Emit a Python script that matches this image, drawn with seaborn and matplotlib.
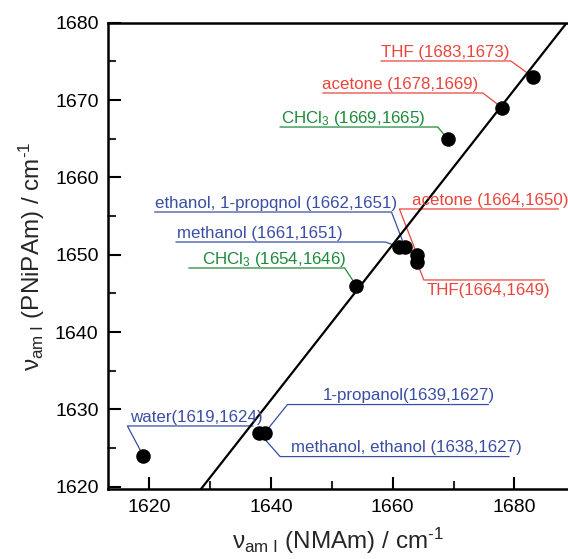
import matplotlib
matplotlib.use('Agg')
import matplotlib.pyplot as plt
from matplotlib.ticker import MultipleLocator
import seaborn as sns
import pandas as pd

sns.set_theme(style='ticks')
plt.rcParams['font.family'] = ['Liberation Sans', 'DejaVu Sans']
plt.rcParams['mathtext.fontset'] = 'custom'
plt.rcParams['mathtext.rm'] = 'Liberation Sans'
plt.rcParams['mathtext.it'] = 'Liberation Sans:italic'
plt.rcParams['mathtext.bf'] = 'Liberation Sans:bold'
plt.rcParams['axes.unicode_minus'] = False

# ---- data ----
solvents = ["water", "methanol, ethanol", "1-propanol", "CHCl3 (a)", "methanol",
            "ethanol, 1-propanol", "acetone (a)", "THF (a)", "CHCl3 (b)", "acetone (b)", "THF (b)"]
nu_nmam = [1619, 1638, 1639, 1654, 1661, 1662, 1664, 1664, 1669, 1678, 1683]
nu_pnipam = [1624, 1627, 1627, 1646, 1651, 1651, 1650, 1649, 1665, 1669, 1673]
ann_texts = ["water(1619,1624)", "methanol, ethanol (1638,1627)", "1-propanol(1639,1627)",
             "CHCl$_3$ (1654,1646)", "methanol (1661,1651)", "ethanol, 1-propqnol (1662,1651)",
             "acetone (1664,1650)", "THF(1664,1649)", "CHCl$_3$ (1669,1665)",
             "acetone (1678,1669)", "THF (1683,1673)"]
groups = ["alcohol", "alcohol", "alcohol", "chloro", "alcohol", "alcohol",
          "aprotic", "aprotic", "chloro", "aprotic", "aprotic"]
fit_x = [1627.0, 1690.0]
fit_y = [1618.2, 1681.4]

x_ticks = [1620, 1640, 1660, 1680]
y_ticks = [1620, 1630, 1640, 1650, 1660, 1670, 1680]

# ---- style / layout ----
group_colors = {"alcohol": "#3a4ea3", "chloro": "#1f8a3c", "aprotic": "#e8463c"}
# (underline x0, underline x1, underline y, text x, text side, leader end)
layout = [
    (1616.4, 1637.1, 1627.85, 1616.9, "above", "left"),
    (1641.5, 1679.2, 1623.89, 1643.3, "above", "left"),
    (1642.7, 1675.8, 1630.62, 1648.5, "above", "left"),
    (1626.4, 1652.1, 1648.28, 1628.6, "above", "right"),
    (1624.3, 1658.8, 1651.64, 1624.6, "above", "right"),
    (1620.8, 1659.8, 1655.52, 1621.0, "above", "right"),
    (1661.1, 1687.3, 1655.91, 1663.2, "above", "left"),
    (1665.1, 1685.0, 1646.73, 1665.6, "below", "left"),
    (1641.4, 1667.4, 1666.51, 1641.7, "above", "right"),
    (1648.45, 1674.8, 1670.91, 1648.45, "above", "right"),
    (1658.0, 1679.4, 1675.05, 1658.0, "above", "right"),
]

df = pd.DataFrame({"x": nu_nmam, "y": nu_pnipam, "solvent": solvents})

fig = plt.figure(figsize=(5.68, 5.59), dpi=100)
ax = fig.add_axes([108.3 / 568, 1 - 489.3 / 559, 1 - 108.3 / 568, (489.3 - 22.7) / 559])

# leader lines
for i, (x0, x1, yl, tx, side, end) in enumerate(layout):
    c = group_colors[groups[i]]
    px, py = nu_nmam[i], nu_pnipam[i]
    if end == "right":
        xs, ys = [x0, x1, px], [yl, yl, py]
    else:
        xs, ys = [x1, x0, px], [yl, yl, py]
    ax.plot(xs, ys, color=c, lw=0.9, zorder=2, solid_capstyle='butt')
    if side == "above":
        ax.annotate(ann_texts[i], xy=(tx, yl), xytext=(0, 3), textcoords='offset points',
                    ha='left', va='baseline', color=c, fontsize=12.2, zorder=4)
    else:
        ax.annotate(ann_texts[i], xy=(tx, yl), xytext=(0, -2.5), textcoords='offset points',
                    ha='left', va='top', color=c, fontsize=12.2, zorder=4)

sns.lineplot(x=fit_x, y=fit_y, color='black', lw=1.6, ax=ax, zorder=3)
sns.scatterplot(data=df, x="x", y="y", color='black', s=110, edgecolor='black',
                linewidth=0, ax=ax, zorder=5, legend=False)

ax.set_xlim(1613.26, 1688.8)
ax.set_ylim(1619.66, 1680.0)
ax.set_xticks(x_ticks)
ax.set_yticks(y_ticks)
ax.xaxis.set_minor_locator(MultipleLocator(10))
ax.yaxis.set_minor_locator(MultipleLocator(5))
ax.tick_params(which='major', direction='in', length=9, width=1.5, labelsize=14,
               pad=7, colors='black')
ax.tick_params(which='minor', direction='in', length=6, width=1.5)
ax.tick_params(top=False, right=False, which='both')
for s in ['left', 'bottom', 'top']:
    ax.spines[s].set_linewidth(1.8)
    ax.spines[s].set_color('black')
ax.spines['right'].set_visible(False)

ax.set_xlabel('ν$_{\\mathrm{am\\ I}}$ (NMAm) / cm$^{\\text{-}1}$', fontsize=17.5, labelpad=7)
ax.set_ylabel('ν$_{\\mathrm{am\\ I}}$ (PNiPAm) / cm$^{\\text{-}1}$', fontsize=17.5, labelpad=6)

fig.savefig('out.png', dpi=100)
